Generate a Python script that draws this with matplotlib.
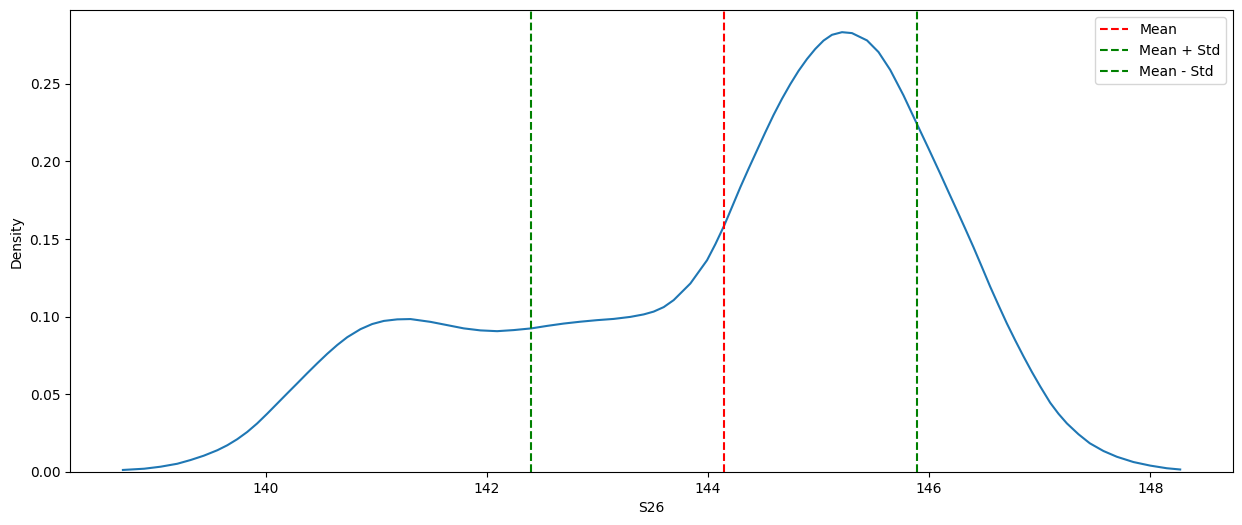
import numpy as np
import matplotlib
matplotlib.use("Agg")
import matplotlib.pyplot as plt

# density curve of S26
s26_x = [138.707, 138.900, 139.048, 139.199, 139.319, 139.439, 139.561, 139.651,
         139.741, 139.832, 139.922, 140.013, 140.103, 140.193, 140.284, 140.374,
         140.465, 140.555, 140.646, 140.736, 140.856, 140.962, 141.067, 141.188,
         141.308, 141.489, 141.640, 141.790, 141.941, 142.092, 142.242, 142.402,
         142.544, 142.694, 142.845, 142.996, 143.147, 143.297, 143.418, 143.508,
         143.599, 143.689, 143.840, 143.991, 144.066, 144.147, 144.217, 144.292,
         144.367, 144.443, 144.518, 144.593, 144.669, 144.744, 144.819, 144.895,
         144.970, 145.045, 145.121, 145.212, 145.302, 145.438, 145.542, 145.648,
         145.768, 145.892, 145.995, 146.100, 146.175, 146.251, 146.326, 146.401,
         146.477, 146.552, 146.627, 146.703, 146.778, 146.854, 146.929, 147.005,
         147.095, 147.170, 147.246, 147.351, 147.453, 147.577, 147.698, 147.848,
         148.000, 148.150, 148.271]
density = [0.0013, 0.0021, 0.0034, 0.0053, 0.0077, 0.0105, 0.0140, 0.0172,
           0.0211, 0.0258, 0.0313, 0.0376, 0.0441, 0.0506, 0.0571, 0.0636,
           0.0700, 0.0761, 0.0818, 0.0868, 0.0920, 0.0953, 0.0973, 0.0983,
           0.0985, 0.0967, 0.0946, 0.0925, 0.0912, 0.0907, 0.0914, 0.0925,
           0.0941, 0.0956, 0.0968, 0.0978, 0.0986, 0.0999, 0.1015, 0.1033,
           0.1062, 0.1107, 0.1214, 0.1364, 0.1467, 0.1589, 0.1707, 0.1834,
           0.1954, 0.2072, 0.2188, 0.2300, 0.2404, 0.2498, 0.2584, 0.2660,
           0.2725, 0.2779, 0.2816, 0.2833, 0.2827, 0.2780, 0.2705, 0.2590,
           0.2426, 0.2238, 0.2083, 0.1922, 0.1804, 0.1686, 0.1568, 0.1448,
           0.1321, 0.1194, 0.1075, 0.0957, 0.0849, 0.0744, 0.0645, 0.0551,
           0.0446, 0.0375, 0.0313, 0.0243, 0.0185, 0.0135, 0.0098, 0.0064,
           0.0041, 0.0024, 0.0016]

mean = 144.145
std = 1.745

fig = plt.figure(figsize=(12.42, 5.25), dpi=100)
ax = fig.add_subplot(111)
fig.subplots_adjust(left=0.0564, right=0.9928, top=0.9804, bottom=0.101)

ax.plot(s26_x, density, color='#1f77b4', linewidth=1.5)
ax.axvline(mean, color='r', linestyle='--', label='Mean')
ax.axvline(mean + std, color='g', linestyle='--', label='Mean + Std')
ax.axvline(mean - std, color='g', linestyle='--', label='Mean - Std')

ax.set_ylim(bottom=0)
ax.set_xlabel("S26")
ax.set_ylabel("Density")
ax.legend(loc='upper right')

fig.savefig("out.png", dpi=100)
